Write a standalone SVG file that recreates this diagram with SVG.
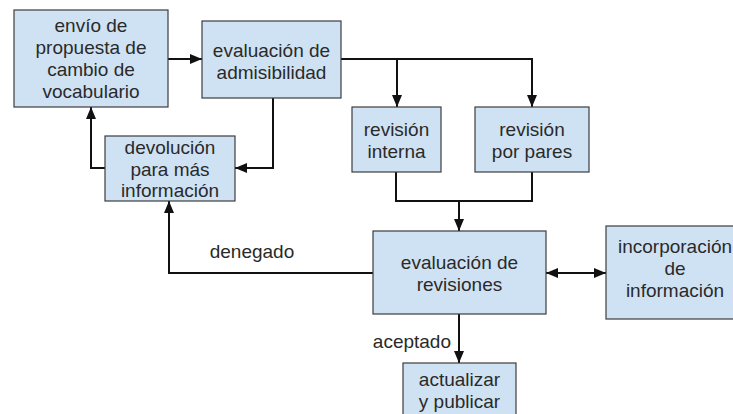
<svg xmlns="http://www.w3.org/2000/svg" width="733" height="414" viewBox="0 0 733 414">
<style>
.box{fill:#cfe2f3;stroke:#3c3c3c;stroke-width:1.2}
.t{font-family:"Liberation Sans",Arial,sans-serif;font-size:19px;fill:#2a2a2a;text-anchor:middle}
.c{fill:none;stroke:#111;stroke-width:2}
</style>
<defs>
<marker id="ah" markerUnits="userSpaceOnUse" viewBox="0 0 12 10" refX="12" refY="5" markerWidth="12" markerHeight="10" orient="auto-start-reverse">
<path d="M0,0 L12,5 L0,10 z" fill="#111"/>
</marker>
</defs>
<rect width="733" height="414" fill="#fff"/>
<g id="connectors">
<path class="c" d="M168,59 H202" marker-end="url(#ah)"/>
<path class="c" d="M341,59 H532 V107" marker-end="url(#ah)"/>
<path class="c" d="M397,59 V107" marker-end="url(#ah)"/>
<path class="c" d="M273,98 V168 H235" marker-end="url(#ah)"/>
<path class="c" d="M105,168 H91 V107" marker-end="url(#ah)"/>
<path class="c" d="M396,172 V201 H532 V172"/>
<path class="c" d="M459,201 V231" marker-end="url(#ah)"/>
<path class="c" d="M373,273 H169 V201" marker-end="url(#ah)"/>
<path class="c" d="M546,273 H606" marker-start="url(#ah)" marker-end="url(#ah)"/>
<path class="c" d="M459,314 V363" marker-end="url(#ah)"/>
<text class="t" x="252" y="258">denegado</text>
<text class="t" x="451" y="348" style="text-anchor:end">aceptado</text>
</g>
<g id="envio">
<rect class="box" x="14" y="10" width="154" height="97"/>
<text class="t" x="91" y="32">envío de</text>
<text class="t" x="91" y="54">propuesta de</text>
<text class="t" x="91" y="76">cambio de</text>
<text class="t" x="91" y="98">vocabulario</text>
</g>
<g id="admisibilidad">
<rect class="box" x="202" y="21" width="139" height="77"/>
<text class="t" x="271.5" y="57">evaluación de</text>
<text class="t" x="271.5" y="79">admisibilidad</text>
</g>
<g id="devolucion">
<rect class="box" x="105" y="136" width="130" height="65"/>
<text class="t" x="170" y="154">devolución</text>
<text class="t" x="170" y="175.5">para más</text>
<text class="t" x="170" y="197">información</text>
</g>
<g id="revision-interna">
<rect class="box" x="352" y="107" width="89" height="65"/>
<text class="t" x="396.5" y="136">revisión</text>
<text class="t" x="396.5" y="158">interna</text>
</g>
<g id="revision-pares">
<rect class="box" x="475" y="107" width="114" height="65"/>
<text class="t" x="532" y="136">revisión</text>
<text class="t" x="532" y="158">por pares</text>
</g>
<g id="evaluacion-revisiones">
<rect class="box" x="373" y="231" width="173" height="83"/>
<text class="t" x="459.5" y="269">evaluación de</text>
<text class="t" x="459.5" y="291">revisiones</text>
</g>
<g id="incorporacion">
<rect class="box" x="606" y="226" width="138" height="93"/>
<text class="t" x="675" y="253">incorporación</text>
<text class="t" x="675" y="275">de</text>
<text class="t" x="675" y="297">información</text>
</g>
<g id="actualizar">
<rect class="box" x="403" y="363" width="113" height="60"/>
<text class="t" x="459.5" y="386">actualizar</text>
<text class="t" x="459.5" y="408">y publicar</text>
</g>
</svg>
